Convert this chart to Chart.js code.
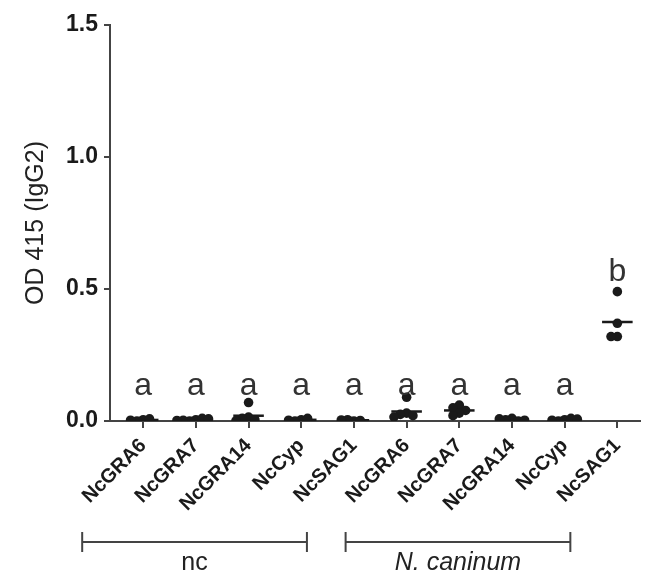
<!DOCTYPE html>
<html><head><meta charset="utf-8">
<script src="https://cdn.jsdelivr.net/npm/chart.js@4/dist/chart.umd.min.js"></script>
<style>html,body{margin:0;padding:0;background:#fff}#wrap{width:647px;height:579px}</style>
</head><body><div id="wrap"><canvas id="c" width="647" height="579"></canvas></div>
<script>
// ---- data ----
const categories = ['NcGRA6','NcGRA7','NcGRA14','NcCyp','NcSAG1','NcGRA6','NcGRA7','NcGRA14','NcCyp','NcSAG1'];
const groupNames = ['nc','N. caninum'];
const groupItalic = [false, true];
const groupOf = [0,0,0,0,0,1,1,1,1,1];
const letters = ['a','a','a','a','a','a','a','a','a','b'];
const yTicks = [0.0, 0.5, 1.0, 1.5];
const yTitle = 'OD 415 (IgG2)';

const ncGRA6   = [0.005, 0.000, 0.008, 0.003];
const ncGRA7   = [0.005, 0.000, 0.010, 0.003, 0.008, 0.002];
const ncGRA14  = [0.070, 0.015, 0.010, 0.005, 0.000];
const ncCyp    = [0.005, 0.000, 0.010, 0.003];
const ncSAG1   = [0.000, 0.005, 0.002, 0.004];
const neoGRA6  = [0.090, 0.030, 0.025, 0.020, 0.015];
const neoGRA7  = [0.060, 0.050, 0.040, 0.030, 0.020];
const neoGRA14 = [0.010, 0.005, 0.000, 0.008, 0.003];
const neoCyp   = [0.005, 0.000, 0.010, 0.003, 0.007];
const neoSAG1  = [0.490, 0.370, 0.320, 0.320];
const series = [ncGRA6, ncGRA7, ncGRA14, ncCyp, ncSAG1, neoGRA6, neoGRA7, neoGRA14, neoCyp, neoSAG1];

// ---- helpers ----
const FONT = "'Liberation Sans', Arial, sans-serif";
const INK = '#1a1a1a';
const AXIS = '#444';
function swarm(vals, yTol, xStep) {
  const placed = [];
  return vals.map(v => {
    const cands = [0];
    for (let i = 1; i < 12; i++) cands.push(-i * xStep, i * xStep);
    for (const dx of cands) {
      if (!placed.some(p => Math.abs(p.y - v) < yTol && Math.abs(p.dx - dx) < xStep * 0.99)) {
        placed.push({ y: v, dx }); return dx;
      }
    }
    return 0;
  });
}
const mean = a => a.reduce((s, v) => s + v, 0) / a.length;

const datasets = [];
series.forEach((vals, i) => {
  const offs = swarm(vals, 0.03, 0.12);
  datasets.push({
    type: 'scatter',
    data: vals.map((v, k) => ({ x: i + 1 + offs[k], y: v })),
    pointRadius: 4.8, pointHoverRadius: 4.8,
    pointBackgroundColor: INK, pointBorderColor: INK, pointBorderWidth: 0
  });
  const m = mean(vals);
  datasets.push({
    type: 'line',
    data: [{ x: i + 1 - 0.29, y: m }, { x: i + 1 + 0.29, y: m }],
    borderColor: INK, borderWidth: 2.5, pointRadius: 0, fill: false
  });
});

const overlay = {
  id: 'overlay',
  afterDatasetsDraw(chart) {
    const { ctx, scales: { x, y }, chartArea } = chart;
    ctx.save();
    // significance letters
    ctx.fillStyle = '#333';
    ctx.font = `32px ${FONT}`;
    ctx.textAlign = 'center';
    ctx.textBaseline = 'alphabetic';
    series.forEach((vals, i) => {
      const mx = Math.max(...vals);
      const yv = mx > 0.2 ? mx + 0.04 : 0.1;
      ctx.fillText(letters[i], x.getPixelForValue(i + 1), y.getPixelForValue(yv));
    });
    // group brackets
    const yLine = chartArea.bottom + 121;
    ctx.strokeStyle = AXIS; ctx.lineWidth = 2;
    groupNames.forEach((name, g) => {
      const idx = groupOf.map((v, k) => v === g ? k : -1).filter(k => k >= 0);
      const l = x.getPixelForValue(idx[0] + 1) - 61;
      const r = x.getPixelForValue(idx[idx.length - 1] + 1) - 47;
      ctx.beginPath();
      ctx.moveTo(l, yLine); ctx.lineTo(r, yLine);
      ctx.moveTo(l, yLine - 10); ctx.lineTo(l, yLine + 10);
      ctx.moveTo(r, yLine - 10); ctx.lineTo(r, yLine + 10);
      ctx.stroke();
      ctx.fillStyle = '#222';
      ctx.font = `${groupItalic[g] ? 'italic ' : ''}25px ${FONT}`;
      ctx.textBaseline = 'middle';
      ctx.fillText(name, (l + r) / 2, yLine + 21);
    });
    ctx.restore();
  }
};

new Chart(document.getElementById('c'), {
  data: { datasets },
  options: {
    responsive: false,
    animation: false,
    layout: { padding: { top: 25, right: 7, left: 0, bottom: 0 } },
    plugins: { legend: { display: false }, tooltip: { enabled: false } },
    scales: {
      x: {
        type: 'linear', min: 0.37, max: 10.43,
        afterBuildTicks: s => { s.ticks = categories.map((_, i) => ({ value: i + 1 })); },
        afterFit: s => { s.height = 158; },
        ticks: {
          autoSkip: false, minRotation: 45, maxRotation: 45, padding: 6,
          color: INK, font: { family: FONT, size: 20, weight: 'bold' },
          callback: v => categories[Math.round(v) - 1]
        },
        grid: { drawOnChartArea: false, drawTicks: true, tickLength: 7, color: AXIS, lineWidth: 2 },
        border: { color: AXIS, width: 2 }
      },
      y: {
        type: 'linear', min: 0, max: 1.5,
        afterBuildTicks: s => { s.ticks = yTicks.map(v => ({ value: v })); },
        afterFit: s => { s.width = 110; },
        ticks: {
          padding: 6, color: INK, font: { family: FONT, size: 23, weight: 'bold' },
          callback: v => Number(v).toFixed(1)
        },
        grid: { drawOnChartArea: false, drawTicks: true, tickLength: 6, color: AXIS, lineWidth: 2 },
        border: { color: AXIS, width: 2 },
        title: { display: true, text: yTitle, color: '#222', font: { family: FONT, size: 25 }, padding: { top: 21, bottom: 0 } }
      }
    }
  },
  plugins: [overlay]
});
</script>
</body></html>
